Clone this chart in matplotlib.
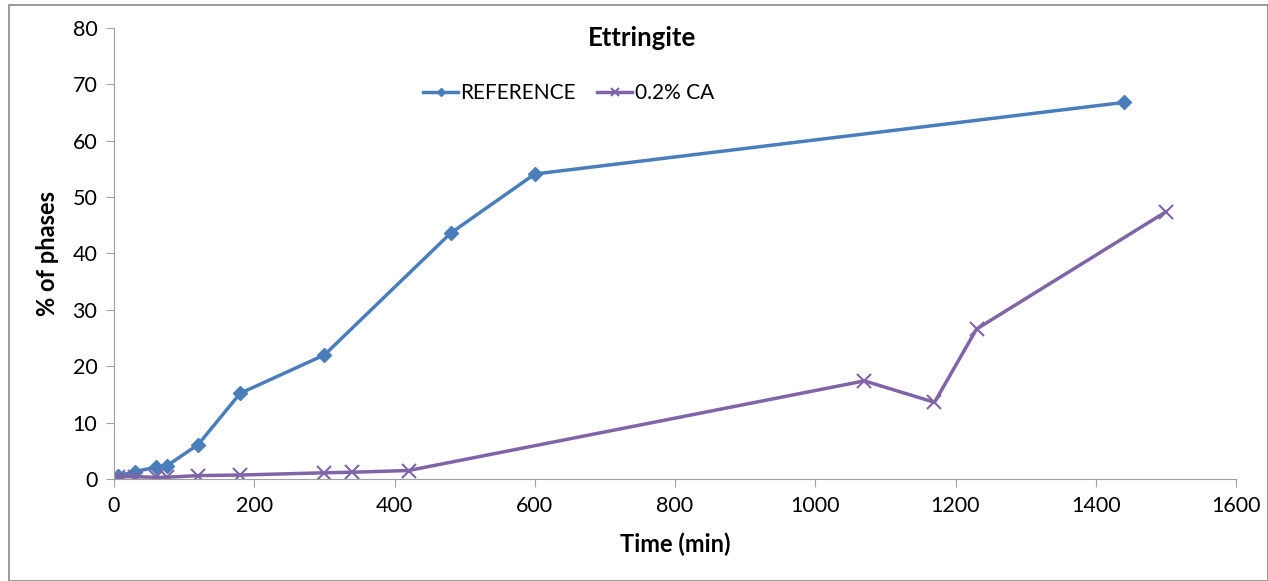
import matplotlib
matplotlib.use("Agg")
import matplotlib.pyplot as plt
from matplotlib.patches import Rectangle

plt.rcParams['font.family'] = ['Lato', 'DejaVu Sans']

# REFERENCE series
ref_t = [6, 30, 60, 75, 120, 180, 300, 480, 600, 1440]
ref_y = [0.6, 1.3, 2.1, 2.3, 6.1, 15.2, 22.0, 43.6, 54.1, 66.8]

# 0.2% CA series
ca_t = [6, 30, 60, 75, 120, 180, 300, 340, 420, 1070, 1170, 1230, 1500]
ca_y = [0.4, 0.4, 0.3, 0.3, 0.6, 0.7, 1.1, 1.2, 1.5, 17.4, 13.6, 26.6, 47.4]

fig = plt.figure(figsize=(12.68, 5.81), dpi=100)
ax = fig.add_axes([0.0899, 0.1756, 0.8849, 0.7762])

ax.plot(ref_t, ref_y, color='#4A7EBB', lw=2.5, marker='D', ms=7, label='REFERENCE')
ax.plot(ca_t, ca_y, color='#7F64A8', lw=2.5, marker='x', ms=10, mew=1.5, label='0.2% CA')

ax.set_xlim(0, 1600)
ax.set_ylim(0, 80)
ax.set_xticks(range(0, 1601, 200))
ax.set_yticks(range(0, 81, 10))
for side in ['top', 'right']:
    ax.spines[side].set_visible(False)
for side in ['left', 'bottom']:
    ax.spines[side].set_color('#A0A0A0')
ax.tick_params(axis='both', direction='out', length=6, color='#A0A0A0', labelsize=15.5, pad=6)

ax.set_xlabel('Time (min)', fontsize=17, fontweight='bold', labelpad=12)
ax.set_ylabel('% of phases', fontsize=17, fontweight='bold', labelpad=10)
ax.text(0.471, 0.978, 'Ettringite', transform=ax.transAxes, ha='center', va='center',
        fontsize=18.5, fontweight='bold')

ax.legend(loc='center', bbox_to_anchor=(0.405, 0.856), ncol=2, frameon=False,
          fontsize=15, handlelength=1.7, handletextpad=0.1, columnspacing=1.0,
          markerscale=0.6, borderpad=0)

fig.patches.append(Rectangle((0.007, 0.0), 0.993, 0.991, transform=fig.transFigure,
                             fill=False, edgecolor='#888888', lw=1.2))

fig.savefig('out.png', dpi=100)
